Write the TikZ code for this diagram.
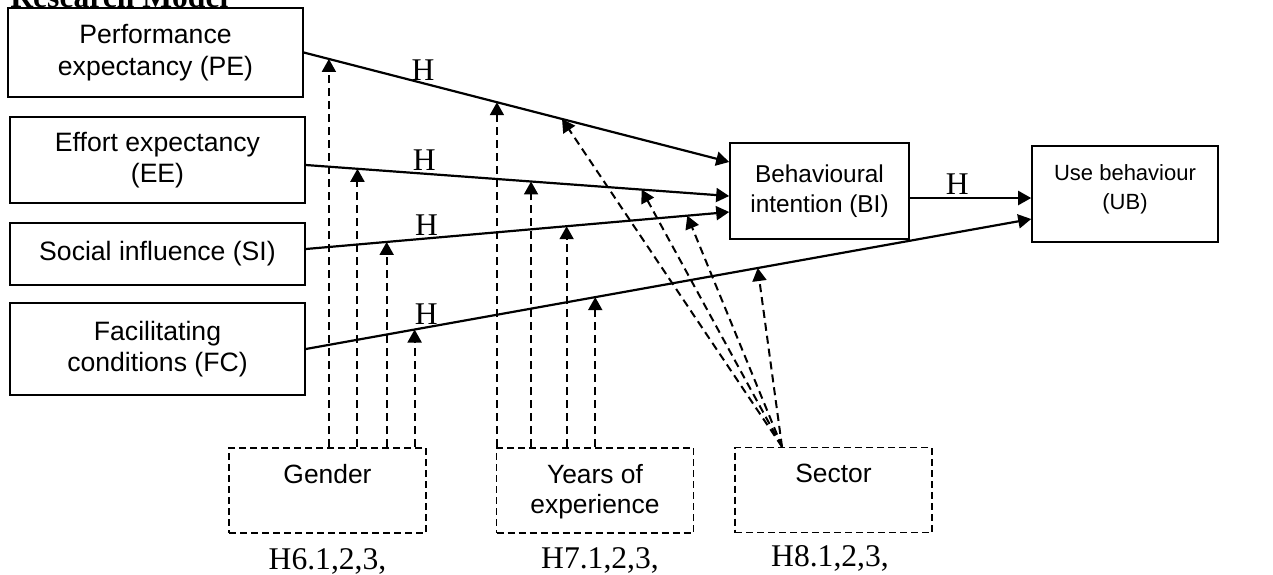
\documentclass[tikz,border=0pt]{standalone}
\usepackage{fontspec}
\setmainfont{Liberation Serif}
\setsansfont{Liberation Sans}
\usepackage{tikz}
\usetikzlibrary{arrows.meta}
\usetikzlibrary{positioning}
\tikzstyle{construct_box}=[draw=black, line width=0.8pt, rectangle, align=center, inner sep=2pt,
    font=\sffamily\fontsize{13.3}{15.8}\selectfont, minimum width=147.5pt]
\tikzstyle{moderator_box}=[construct_box, dash pattern=on 3.5pt off 2pt, minimum width=98.5pt, minimum height=42.5pt,
    font=\sffamily\fontsize{13.2}{15}\selectfont]
\tikzstyle{path_arrow}=[line width=1.1pt, -{Triangle[length=6.5pt,width=7pt]}]
\tikzstyle{mod_arrow}=[path_arrow, line width=1pt, dash pattern=on 4pt off 2.5pt]
\tikzstyle{h_label}=[font=\fontsize{15.8}{18}\selectfont, inner sep=1pt]
\tikzstyle{title_text}=[font=\bfseries\fontsize{15.8}{18}\selectfont, inner sep=0pt]

\begin{document}
\begin{tikzpicture}[x=0.5pt, y=-0.5pt]
\useasboundingbox (0,0) rectangle (1273,574);
\node[title_text, anchor=base west] (title) at (10,7) {Research Model};
\node[construct_box, minimum height=44.5pt] (pe) at (155.5,52.5) {Performance\\expectancy (PE)};
\node[construct_box, minimum height=43pt] (ee) at (157.5,160) {Effort expectancy\\(EE)};
\node[construct_box, minimum height=31pt] (si) at (157.5,254) {Social influence (SI)};
\node[construct_box, minimum height=46pt] (fc) at (157.5,349) {Facilitating\\conditions (FC)};
\node[construct_box, minimum width=89.5pt, minimum height=48pt, font=\sffamily\fontsize{12.2}{15}\selectfont] (bi) at (819.5,191) {Behavioural\\intention (BI)};
\node[construct_box, minimum width=93pt, minimum height=48pt, font=\sffamily\fontsize{11}{14.5}\selectfont] (ub) at (1125,194) {Use behaviour\\(UB)\\[-8pt]\mbox{}};
\node[moderator_box] (gender) at (327.5,490.5) {\rule{0pt}{12pt}Gender\\\strut};
\node[moderator_box] (years) at (595,490.5) {\rule{0pt}{12pt}Years of\\experience\strut};
\node[moderator_box] (sector) at (833.5,490) {\rule{0pt}{12pt}Sector\\\strut};
\node[h_label, anchor=base] (h6) at (327.5,569) {H6.1,2,3,};
\node[h_label, anchor=base] (h7) at (600,568) {H7.1,2,3,};
\node[h_label, anchor=base] (h8) at (830,566) {H8.1,2,3,};
\coordinate (sec_top) at ([xshift=-25.75pt]sector.north);
\draw[path_arrow](pe.east) -- ([yshift=14.5pt]bi.west) node[h_label, pos=0.28, above] (h_pe) {H}
    coordinate[pos=0.059] (pe_g) coordinate[pos=0.454] (pe_y) coordinate[pos=0.607] (pe_s);
\draw[path_arrow]([yshift=-2.5pt]ee.east) -- ([yshift=-2.5pt]bi.west) node[h_label, pos=0.28, above] (h_ee) {H}
    coordinate[pos=0.122] (ee_g) coordinate[pos=0.532] (ee_y) coordinate[pos=0.793] (ee_s);
\draw[path_arrow]([yshift=2.5pt]si.east) -- ([yshift=-10.5pt]bi.west) node[h_label, pos=0.285, above] (h_si) {H}
    coordinate[pos=0.191] (si_g) coordinate[pos=0.616] (si_y) coordinate[pos=0.901] (si_s);
\draw[path_arrow](fc.east) -- ([yshift=-12.5pt]ub.west) node[h_label, pos=0.166, above] (h_fc) {H}
    coordinate[pos=0.15] (fc_g) coordinate[pos=0.399] (fc_y) coordinate[pos=0.623] (fc_s);
\draw[path_arrow]([yshift=-3.5pt]bi.east) -- ([yshift=-3.5pt]bi.east -| ub.west) node[h_label, pos=0.39, above] (h_bi) {H};
\draw[mod_arrow](gender.north -| pe_g) -- (pe_g);
\draw[mod_arrow](gender.north -| ee_g) -- (ee_g);
\draw[mod_arrow](gender.north -| si_g) -- (si_g);
\draw[mod_arrow](gender.north -| fc_g) -- (fc_g);
\draw[mod_arrow](years.north -| pe_y) -- (pe_y);
\draw[mod_arrow](years.north -| ee_y) -- (ee_y);
\draw[mod_arrow](years.north -| si_y) -- (si_y);
\draw[mod_arrow](years.north -| fc_y) -- (fc_y);
\draw[mod_arrow](sec_top) -- (pe_s);
\draw[mod_arrow](sec_top) -- (ee_s);
\draw[mod_arrow](sec_top) -- (si_s);
\draw[mod_arrow](sec_top) -- (fc_s);
\end{tikzpicture}
\end{document}
